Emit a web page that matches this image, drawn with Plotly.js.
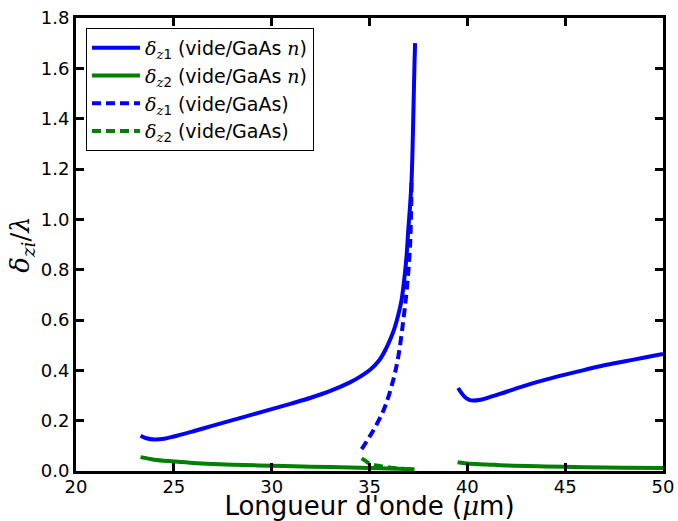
<!DOCTYPE html>
<html>
<head>
<meta charset="utf-8">
<script src="https://cdn.plot.ly/plotly-3.0.1.min.js"></script>
<style>html,body{margin:0;padding:0;background:#fff;}#plot{width:678px;height:521px;}</style>
</head>
<body>
<div id="plot"></div>
<script>
// Branch 1 (below resonance), doped GaAs n
const xBlueN1 = [23.3, 23.6, 24.0, 24.5, 25.0, 26.0, 27.0, 28.0, 29.0, 30.0, 31.0, 32.0, 33.0, 34.0, 34.5, 35.0, 35.5, 35.87, 36.1, 36.3, 36.5, 36.64, 36.81, 36.9, 36.98, 37.07, 37.15, 37.2, 37.25, 37.3, 37.33];
const yBlueN1 = [0.140, 0.130, 0.125, 0.128, 0.137, 0.158, 0.180, 0.202, 0.224, 0.246, 0.268, 0.291, 0.318, 0.352, 0.374, 0.400, 0.440, 0.490, 0.530, 0.573, 0.630, 0.680, 0.785, 0.860, 0.956, 1.050, 1.155, 1.280, 1.450, 1.620, 1.700];
const xGreenN1 = [23.3, 24.0, 25.0, 26.0, 27.0, 28.0, 30.0, 32.0, 33.5, 35.0, 36.0, 37.3];
const yGreenN1 = [0.055, 0.045, 0.038, 0.032, 0.028, 0.025, 0.021, 0.017, 0.015, 0.012, 0.010, 0.007];
// Branch 2 (above resonance), doped GaAs n
const xBlueN2 = [39.53, 39.7, 39.9, 40.1, 40.3, 40.6, 41.0, 42.0, 43.0, 44.0, 45.0, 46.0, 47.0, 48.0, 49.0, 50.0];
const yBlueN2 = [0.330, 0.310, 0.292, 0.283, 0.280, 0.282, 0.290, 0.315, 0.340, 0.363, 0.383, 0.402, 0.420, 0.435, 0.450, 0.465];
const xGreenN2 = [39.5, 40.0, 41.0, 42.0, 44.0, 46.0, 48.0, 50.0];
const yGreenN2 = [0.035, 0.030, 0.026, 0.022, 0.018, 0.015, 0.013, 0.012];
// Undoped GaAs
const xBlueU = [34.6, 35.0, 35.4, 35.79, 36.21, 36.47, 36.73, 36.9, 37.07, 37.15];
const yBlueU = [0.087, 0.136, 0.190, 0.255, 0.361, 0.454, 0.600, 0.718, 0.890, 1.155];
const xGreenU = [34.6, 34.8, 35.0, 35.5, 36.0, 36.5, 37.3];
const yGreenU = [0.050, 0.040, 0.030, 0.020, 0.014, 0.010, 0.006];

const xTicks = [20, 25, 30, 35, 40, 45, 50];
const yTicks = [0.0, 0.2, 0.4, 0.6, 0.8, 1.0, 1.2, 1.4, 1.6, 1.8];

const BLUE = '#0000ff', GREEN = '#008000';
const sf = s => '<span style="font-family:DejaVu Serif"><i>' + s + '</i></span>';
const names = [
  sf('δ') + '<sub>' + sf('z') + '1</sub> (vide/GaAs ' + sf('n') + ')',
  sf('δ') + '<sub>' + sf('z') + '2</sub> (vide/GaAs ' + sf('n') + ')',
  sf('δ') + '<sub>' + sf('z') + '1</sub> (vide/GaAs)',
  sf('δ') + '<sub>' + sf('z') + '2</sub> (vide/GaAs)'
];
const DASH = '9px,5px';
const LW = 4;

const traces = [
  {x: xBlueN1, y: yBlueN1, name: names[0], legendgroup: 'a', line: {color: BLUE, width: LW, shape: 'spline'}},
  {x: xGreenN1, y: yGreenN1, name: names[1], legendgroup: 'b', line: {color: GREEN, width: LW, shape: 'spline'}},
  {x: xBlueU, y: yBlueU, name: names[2], legendgroup: 'c', line: {color: BLUE, width: LW, dash: DASH, shape: 'spline'}},
  {x: xGreenU, y: yGreenU, name: names[3], legendgroup: 'd', line: {color: GREEN, width: LW, dash: DASH, shape: 'spline'}},
  {x: xBlueN2, y: yBlueN2, name: names[0], legendgroup: 'a', showlegend: false, line: {color: BLUE, width: LW, shape: 'spline'}},
  {x: xGreenN2, y: yGreenN2, name: names[1], legendgroup: 'b', showlegend: false, line: {color: GREEN, width: LW, shape: 'spline'}}
].map(t => Object.assign({type: 'scatter', mode: 'lines', hoverinfo: 'skip'}, t));

const layout = {
  width: 678, height: 521,
  margin: {l: 76, r: 15, t: 18, b: 50},
  paper_bgcolor: '#fff', plot_bgcolor: '#fff',
  font: {family: 'DejaVu Sans', color: '#000', size: 18},
  showlegend: true,
  legend: {
    x: 0.017, y: 0.978, xanchor: 'left', yanchor: 'top',
    bgcolor: '#fff', bordercolor: '#000', borderwidth: 1,
    font: {size: 19}, tracegroupgap: 3, traceorder: 'normal', itemwidth: 48
  },
  xaxis: {
    range: [20, 50], tickvals: xTicks, ticktext: xTicks.map(String),
    showgrid: false, zeroline: false, showline: true, linecolor: '#000', linewidth: 3,
    mirror: 'ticks', ticks: 'inside', ticklen: 8, tickwidth: 3, tickcolor: '#000',
    tickfont: {size: 18}, ticklabelstandoff: -3,
    title: {text: "Longueur d'onde (" + sf('μ') + "m)", font: {size: 26}, standoff: 5}
  },
  yaxis: {
    range: [0, 1.8], tickvals: yTicks, ticktext: yTicks.map(v => v.toFixed(1)),
    showgrid: false, zeroline: false, showline: true, linecolor: '#000', linewidth: 3,
    mirror: 'ticks', ticks: 'inside', ticklen: 8, tickwidth: 3, tickcolor: '#000',
    tickfont: {size: 18},
    title: {text: '<i>δ</i><sub><i>zi</i></sub>/<i>λ</i>', font: {size: 26, family: 'DejaVu Serif'}, standoff: 4}
  }
};

Plotly.newPlot('plot', traces, layout, {displayModeBar: false, staticPlot: true});
</script>
</body>
</html>
